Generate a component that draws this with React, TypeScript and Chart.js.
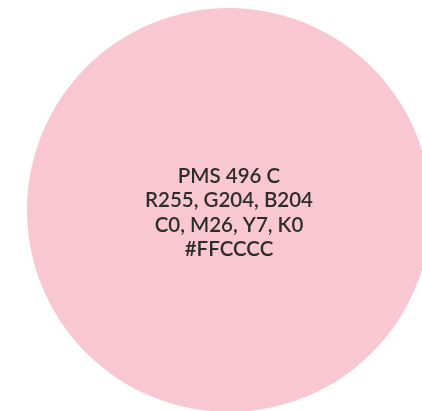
import React, { useEffect, useRef } from "react";
import { Chart, registerables } from "chart.js";

Chart.register(...registerables);

const categories = ["PMS 496 C"];
const values = [1];
const colors = ["#F9C7D1"];
const labelLines = ["PMS 496 C", "R255, G204, B204", "C0, M26, Y7, K0", "#FFCCCC"];

const centerText = {
  id: "centerText",
  afterDraw(chart: any) {
    const meta = chart.getDatasetMeta(0);
    const arc = meta.data[0];
    if (!arc) return;
    const { x, y } = arc.getProps(["x", "y"], true);
    const ctx = chart.ctx;
    ctx.save();
    ctx.fillStyle = "#2d2d2d";
    ctx.font = "600 20.5px Lato";
    ctx.textAlign = "center";
    ctx.textBaseline = "middle";
    const lh = 24.5;
    const start = y - 34;
    labelLines.forEach((t, i) => {
      ctx.fillText(t, x, start + i * lh);
    });
    ctx.restore();
  },
};

export default function App() {
  const ref = useRef<HTMLCanvasElement>(null);
  useEffect(() => {
    if (!ref.current) return;
    const chart = new Chart(ref.current, {
      type: "pie",
      data: {
        labels: categories,
        datasets: [{ data: values, backgroundColor: colors, borderWidth: 0 }],
      },
      options: {
        animation: false,
        responsive: false,
        layout: { padding: 8 },
        plugins: { legend: { display: false }, tooltip: { enabled: false } },
      },
      plugins: [centerText],
    });
    return () => chart.destroy();
  }, []);
  return (
    <div style={{ position: "absolute", left: 0, top: 0, width: 422, height: 411, overflow: "hidden", background: "#fff" }}>
      <canvas ref={ref} width={458} height={420} style={{ display: "block" }} />
    </div>
  );
}
